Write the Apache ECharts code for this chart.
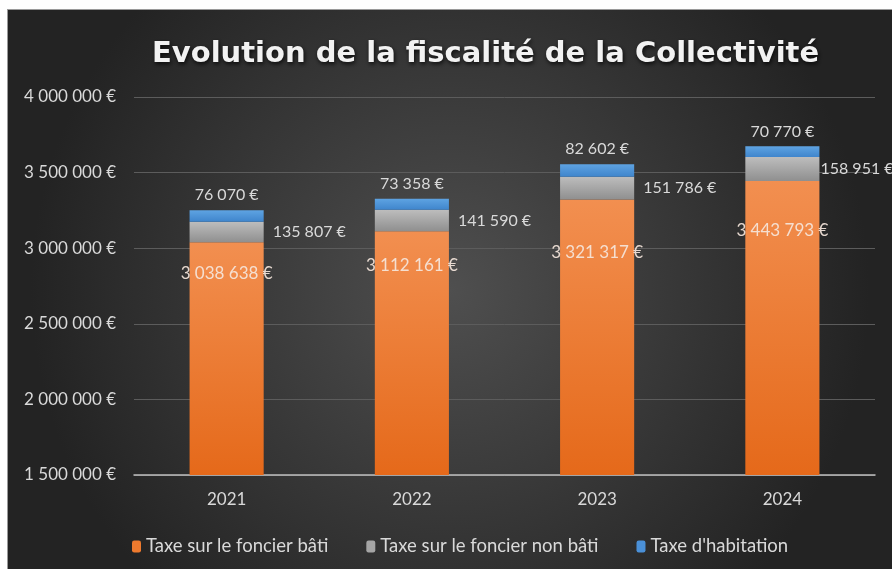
<!DOCTYPE html>
<html>
<head>
<meta charset="utf-8">
<script src="https://cdn.jsdelivr.net/npm/echarts@6/dist/echarts.min.js"></script>
<style>
  html, body { margin: 0; padding: 0; background: #ffffff; }
  #chart { position: absolute; left: 7px; top: 9px; width: 885px; height: 560px; border-left: 1px solid #9a9a9a; border-top: 1px solid #9a9a9a; box-sizing: border-box; }
</style>
</head>
<body>
<div id="chart"></div>
<script>
// données
const years = ['2021', '2022', '2023', '2024'];
const foncierBati = [3038638, 3112161, 3321317, 3443793];
const foncierNonBati = [135807, 141590, 151786, 158951];
const habitation = [76070, 73358, 82602, 70770];

// étiquettes déplacées à la main dans l'original
const batiLabelShift = [31, 34, 52, 49];
const nonBatiLabelShift = [0, 0, 0, -8];

const fmt = v => String(v).replace(/\B(?=(\d{3})+(?!\d))/g, ' ') + ' €';

function grad(top, bottom) {
    return new echarts.graphic.LinearGradient(0, 0, 0, 1, [
        { offset: 0, color: top },
        { offset: 1, color: bottom }
    ]);
}

const labelFont = { fontFamily: 'Lato', fontSize: 16 };

const chart = echarts.init(document.getElementById('chart'));
chart.setOption({
    backgroundColor: {
        type: 'radial', x: 0.5, y: 0.5, r: 0.75,
        colorStops: [
            { offset: 0, color: '#4f4f4f' },
            { offset: 1, color: '#232323' }
        ]
    },
    textStyle: { fontFamily: 'Lato' },
    title: {
        text: 'Evolution de la fiscalité de la Collectivité',
        left: 139,
        top: 25,
        textStyle: {
            color: '#f2f2f2',
            fontSize: 29,
            fontWeight: 'bold',
            fontFamily: 'DejaVu Sans',
            textShadowColor: 'rgba(0,0,0,0.8)',
            textShadowBlur: 4,
            textShadowOffsetX: 1,
            textShadowOffsetY: 2
        }
    },
    legend: {
        left: 119,
        top: 522,
        itemWidth: 9,
        itemHeight: 12,
        itemGap: 38,
        textStyle: { color: '#d9d9d9', fontSize: 18.5, fontFamily: 'Lato' },
        data: [
            { name: 'Taxe sur le foncier bâti', itemStyle: { color: '#ee7a2e' } },
            { name: 'Taxe sur le foncier non bâti', itemStyle: { color: '#a5a5a5' } },
            { name: "Taxe d'habitation", itemStyle: { color: '#4a90d8' } }
        ]
    },
    grid: { left: 126, right: 17, top: 87, bottom: 94 },
    xAxis: {
        type: 'category',
        data: years,
        axisTick: { show: false },
        axisLine: { lineStyle: { color: '#bfbfbf', width: 1.5 } },
        axisLabel: { color: '#d9d9d9', fontSize: 17, margin: 16 }
    },
    yAxis: {
        type: 'value',
        min: 1500000,
        max: 4000000,
        interval: 500000,
        axisLabel: { color: '#d9d9d9', fontSize: 17, margin: 18, formatter: v => fmt(v) },
        splitLine: { lineStyle: { color: '#5c5c5c', width: 1 } }
    },
    series: [
        {
            name: 'Taxe sur le foncier bâti',
            type: 'bar',
            stack: 'total',
            barWidth: '40%',
            itemStyle: { color: grad('#f28f50', '#e5691a') },
            data: foncierBati.map((v, i) => ({
                value: v,
                label: { offset: [0, batiLabelShift[i] - 13] }
            })),
            label: {
                show: true,
                position: 'insideTop',
                color: 'rgba(245,230,220,0.92)',
                ...labelFont,
                fontSize: 17,
                formatter: p => fmt(p.value)
            }
        },
        {
            name: 'Taxe sur le foncier non bâti',
            type: 'bar',
            stack: 'total',
            itemStyle: { color: grad('#bdbdbd', '#8f8f8f') },
            data: foncierNonBati.map((v, i) => ({
                value: v,
                label: { offset: [nonBatiLabelShift[i], 0] }
            })),
            label: {
                show: true,
                position: 'right',
                distance: 9,
                color: '#d9d9d9',
                ...labelFont,
                formatter: p => fmt(p.value)
            }
        },
        {
            name: "Taxe d'habitation",
            type: 'bar',
            stack: 'total',
            itemStyle: { color: grad('#5ea3e2', '#3f85cc') },
            data: habitation,
            label: {
                show: true,
                position: 'top',
                distance: 7,
                color: '#d9d9d9',
                ...labelFont,
                formatter: p => fmt(p.value)
            }
        }
    ]
});
</script>
</body>
</html>
